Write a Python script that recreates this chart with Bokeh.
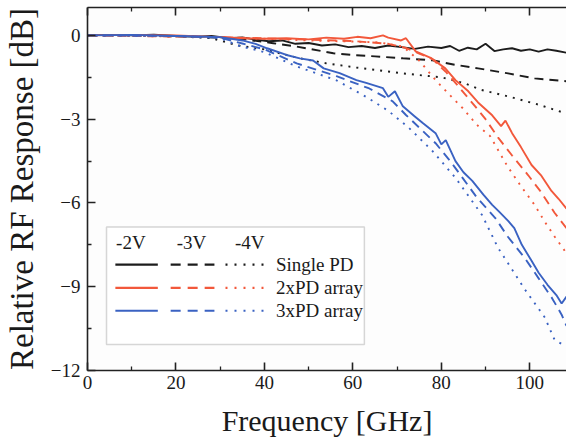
from bokeh.plotting import figure
from bokeh.models import (Range1d, FixedTicker, LinearAxis, Label, BoxAnnotation)
from bokeh.embed import file_html
from bokeh.resources import INLINE

# ---- data (frequency in GHz, response in dB) ----
single_2v_f = [0, 5, 10, 15, 20, 25, 28, 32, 35, 38, 41, 44, 47, 50, 53, 56, 59, 62, 65, 68, 71, 74, 77,
               80, 82, 84, 86, 88, 90, 92, 94, 96, 98, 100, 102, 104, 106, 108.3]
single_2v_db = [0, 0.02, 0.0, 0.03, -0.02, -0.05, -0.02, -0.1, -0.07, -0.15, -0.21, -0.18, -0.3, -0.27,
                -0.36, -0.32, -0.42, -0.38, -0.45, -0.36, -0.42, -0.48, -0.4, -0.45, -0.38, -0.55,
                -0.44, -0.5, -0.3, -0.56, -0.5, -0.46, -0.55, -0.5, -0.58, -0.5, -0.55, -0.62]

single_3v_f = [0, 10, 20, 30, 35.4, 42, 47, 55.6, 60, 65, 71.3, 78, 83, 88.3, 95.1, 101.1, 108.3]
single_3v_db = [0, 0.0, -0.03, -0.08, -0.14, -0.28, -0.39, -0.64, -0.7, -0.75, -0.82, -0.89, -1.05,
                -1.18, -1.36, -1.54, -1.64]

single_4v_f = [0, 20, 28, 34, 40, 48, 54, 60.8, 71.3, 80, 85, 89, 96, 102, 108.3]
single_4v_db = [0, -0.03, -0.1, -0.36, -0.5, -0.82, -1.0, -1.15, -1.36, -1.5, -1.7, -1.95, -2.22,
                -2.48, -2.8]

pd2_2v_f = [0, 10, 20, 30, 35, 40, 45, 50, 54, 58, 61, 64, 66.8, 68, 70.9, 72, 74.2, 77.6, 80.9, 83.2,
            86.1, 88.3, 91.5, 93.5, 94.5, 96, 98, 100.4, 102.5, 104.9, 106.5, 108.3]
pd2_2v_db = [0, 0.02, 0, -0.06, -0.1, -0.12, -0.1, -0.14, -0.08, -0.12, -0.05, -0.1, 0.0, -0.08,
             -0.18, -0.1, -0.57, -0.8, -1.18, -1.6, -2.0, -2.4, -2.86, -3.25, -3.05, -3.5, -4.0,
             -4.64, -5.0, -5.57, -5.85, -6.2]

pd2_3v_f = [0, 30, 50, 60, 68, 72, 75, 78, 81, 84, 87.7, 90, 92.8, 96, 99.6, 102.5, 105.6, 108.3]
pd2_3v_db = [0, -0.06, -0.15, -0.2, -0.3, -0.45, -0.65, -0.85, -1.3, -1.85, -2.55, -3.0, -3.65,
             -4.3, -5.0, -5.6, -6.35, -6.9]

pd2_4v_f = [0, 30, 50, 60, 66, 71.3, 75, 78.7, 82, 84.8, 88, 91, 95, 98, 101, 103.5, 105.6, 108.3]
pd2_4v_db = [0, -0.06, -0.18, -0.22, -0.25, -0.4, -0.9, -1.6, -2.15, -2.6, -3.2, -3.6, -4.7, -5.4,
             -6.05, -6.7, -7.2, -7.8]

pd3_2v_f = [0, 10, 20, 25, 30, 35, 38, 40.6, 45, 48, 51, 53.4, 57, 60.8, 63, 66.8, 68, 69.5, 71.3,
            74, 75.8, 78.7, 80, 81, 83.2, 85, 87, 89.5, 91.5, 93, 95.1, 96.5, 98.2, 100.4, 102,
            104, 106, 107.2, 108.3]
pd3_2v_db = [0, 0.02, -0.02, -0.04, -0.06, -0.18, -0.3, -0.46, -0.7, -0.82, -0.9, -1.18, -1.35,
             -1.6, -1.7, -1.89, -2.2, -2.0, -2.54, -2.9, -3.14, -3.5, -3.9, -3.75, -4.5, -4.9,
             -5.21, -5.7, -6.07, -6.3, -6.64, -6.9, -7.5, -8.07, -8.5, -8.93, -9.3, -9.6, -9.35]

pd3_3v_f = [0, 20, 30, 35, 40, 47.3, 56.3, 63.7, 69, 72, 75, 78.7, 82, 84.8, 88, 92.2, 95, 99,
            102, 105, 107.2, 108.3]
pd3_3v_db = [0, -0.02, -0.08, -0.29, -0.5, -1.0, -1.46, -1.9, -2.36, -2.85, -3.3, -3.86, -4.5,
             -5.1, -5.8, -6.54, -7.2, -8.0, -8.7, -9.4, -10.0, -10.4]

pd3_4v_f = [0, 20, 30, 34, 40, 47.3, 56.3, 63, 68, 72.6, 78, 83.2, 89.2, 92.8, 98.9, 103.4, 105.6,
            108.3]
pd3_4v_db = [0, -0.02, -0.1, -0.36, -0.6, -1.11, -1.61, -2.2, -2.7, -3.3, -4.14, -5.1, -6.43,
             -7.6, -9.1, -10.1, -10.9, -11.15]

x_ticks = [0, 20, 40, 60, 80, 100]
x_minor = [10, 30, 50, 70, 90]
y_ticks = [0, -3, -6, -9, -12]
y_minor = [-1.5, -4.5, -7.5, -10.5]

legend_header = ["-2V", "-3V", "-4V"]
legend_rows = ["Single PD", "2xPD array", "3xPD array"]

BLACK = "#1c1c1c"
RED = "#f2583b"
BLUE = "#3a62c2"
FONT = "'Liberation Serif', 'Times New Roman', Times, serif"

p = figure(width=566, height=443, output_backend="svg", toolbar_location=None,
           x_range=Range1d(0, 108.3), y_range=Range1d(-12, 1),
           min_border_left=87, min_border_right=0, min_border_top=7, min_border_bottom=73)
p.outline_line_color = None
p.background_fill_color = "#fdfdfd"
p.border_fill_color = "white"
p.grid.visible = False

styles = ["solid", "9 6", "2 6"]
series = [
    (BLACK, [(single_2v_f, single_2v_db), (single_3v_f, single_3v_db), (single_4v_f, single_4v_db)]),
    (RED, [(pd2_2v_f, pd2_2v_db), (pd2_3v_f, pd2_3v_db), (pd2_4v_f, pd2_4v_db)]),
    (BLUE, [(pd3_2v_f, pd3_2v_db), (pd3_3v_f, pd3_3v_db), (pd3_4v_f, pd3_4v_db)]),
]
for color, curves in series:
    for (xs, ys), dash in zip(curves, styles):
        p.line(xs, ys, line_color=color, line_width=1.9, line_dash=dash)


def style_axis(ax):
    ax.axis_line_color = "#222222"
    ax.axis_line_width = 1.6
    ax.major_tick_line_color = "#222222"
    ax.minor_tick_line_color = "#222222"
    ax.major_tick_line_width = 1.6
    ax.minor_tick_line_width = 1.3
    ax.major_tick_in = 8
    ax.major_tick_out = 0
    ax.minor_tick_in = 4
    ax.minor_tick_out = 0
    ax.major_label_text_font = FONT
    ax.major_label_text_font_size = "19px"
    ax.major_label_text_color = "#1a1a1a"
    ax.axis_label_text_font = FONT
    ax.axis_label_text_font_style = "normal"
    ax.axis_label_text_color = "#1a1a1a"


xa = p.xaxis[0]
xa.ticker = FixedTicker(ticks=x_ticks, minor_ticks=x_minor)
xa.axis_label = "Frequency [GHz]"
style_axis(xa)
xa.axis_label_text_font_size = "30px"
xa.major_label_standoff = 5
xa.axis_label_standoff = 12

ya = p.yaxis[0]
ya.ticker = FixedTicker(ticks=y_ticks, minor_ticks=y_minor)
ya.axis_label = "Relative RF Response [dB]"
style_axis(ya)
ya.axis_label_text_font_size = "33px"
ya.major_label_standoff = 7
ya.axis_label_standoff = 8

top = LinearAxis(ticker=FixedTicker(ticks=x_ticks, minor_ticks=x_minor))
style_axis(top)
top.major_label_overrides = {t: "" for t in x_ticks}
top.major_label_standoff = 0
p.add_layout(top, "above")

# ---- legend (built by hand) ----
p.add_layout(BoxAnnotation(left=4.3, right=62.6, top=-6.86, bottom=-11.07,
                           fill_color="white", fill_alpha=1.0,
                           line_color="#7a7a7a", line_width=1.5, level="underlay"))
for txt, xc in zip(legend_header, [9.8, 23.5, 36.7]):
    p.add_layout(Label(x=xc, y=-7.43, text=txt, text_font=FONT, text_font_size="19px",
                       text_align="center", text_baseline="middle", text_color="#1a1a1a"))
row_y = [-8.21, -9.04, -9.86]
seg_x = [(6.3, 15.9), (18.8, 28.7), (31.2, 41.0)]
legend_dash = ["solid", "10 7", "2 7"]
for (color, _), name, yy in zip(series, legend_rows, row_y):
    for (x0, x1), dash in zip(seg_x, legend_dash):
        p.line([x0, x1], [yy, yy], line_color=color, line_width=2.2, line_dash=dash)
    p.add_layout(Label(x=42.6, y=yy, text=name, text_font=FONT, text_font_size="19px",
                       text_align="left", text_baseline="middle", text_color="#1a1a1a"))

open("out.html", "w").write(file_html(p, INLINE))
